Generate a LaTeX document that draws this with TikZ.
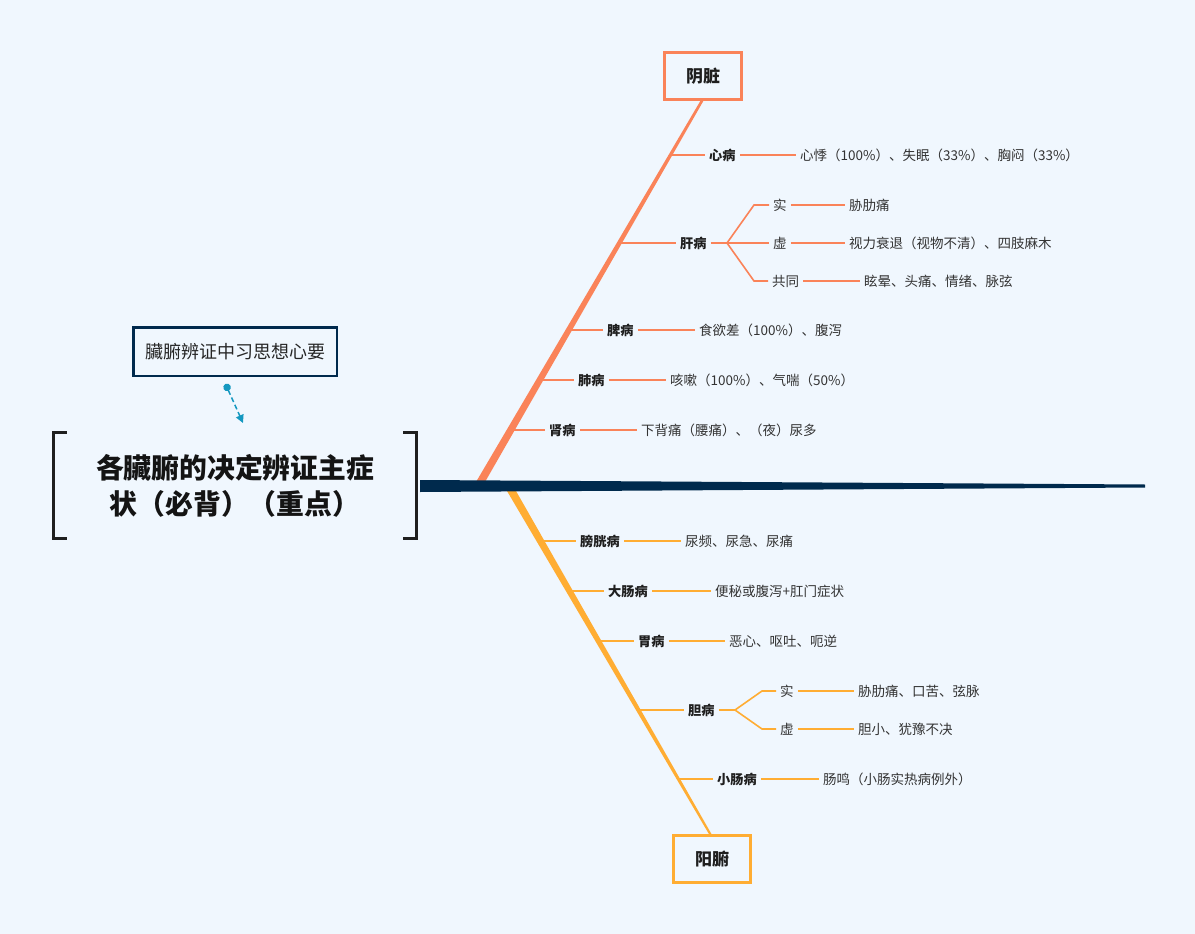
\documentclass[tikz,border=0pt]{standalone}
\usepackage{fontspec}
\setmainfont{Noto Sans CJK SC}
\usetikzlibrary{arrows.meta}
\definecolor{bgblue}{RGB}{240,247,254}
\definecolor{coral}{RGB}{250,131,89}
\definecolor{amber}{RGB}{255,173,51}
\definecolor{navy}{RGB}{0,42,77}
\definecolor{notecyan}{RGB}{20,152,192}
\begin{document}
\begin{tikzpicture}[x=1pt,y=-1pt,
  organ/.style={font=\bfseries\fontsize{13.2}{15}\selectfont,text=black!88,inner sep=4pt,anchor=west},
  sym/.style={font=\fontsize{13.5}{15}\selectfont,text=black!80,inner sep=4pt,anchor=west},
  yin/.style={draw=coral,line width=1.6pt},
  yang/.style={draw=amber,line width=1.6pt},
  group/.style={draw,line width=3pt,fill=bgblue,minimum width=77pt,minimum height=47pt,
    inner sep=0pt,font=\bfseries\fontsize{17}{20}\selectfont,text=black!88}]
  \fill[bgblue] (0,0) rectangle (1195,934);
  \useasboundingbox (0,0) rectangle (1195,934);
  % bones and spine
  \fill[coral] (476,482) -- (485,482) -- (704.5,99) -- (701.5,99) -- cycle;
  \fill[amber] (507,491) -- (516,491) -- (712,835) -- (709.5,835) -- cycle;
  \fill[navy] (420,480) -- (1145,484.5) -- (1145,487.5) -- (420,492) -- cycle;
  \node[group,draw=coral] (yinzang) at (703,76) {阴脏};
  \node[group,draw=amber] (yangfu) at (712,859) {阳腑};
  % main topic
  \node[font=\bfseries\fontsize{27.8}{36}\selectfont,align=center,text=black!92,
    minimum width=362pt,minimum height=105pt,inner sep=0pt] (topic) at (235,485.5)
    {各臟腑的决定辨证主症\\状（必背）（重点）};
  \draw[line width=3pt,black!88] ([xshift=13pt]topic.north west) -- (topic.north west)
    -- (topic.south west) -- ([xshift=13pt]topic.south west);
  \draw[line width=3pt,black!88] ([xshift=-13pt]topic.north east) -- (topic.north east)
    -- (topic.south east) -- ([xshift=-13pt]topic.south east);
  \node[draw=navy,line width=2.5pt,minimum width=203.5pt,minimum height=48.5pt,inner sep=0pt,
    font=\fontsize{18}{20}\selectfont,text=black!85] (note) at (235,351.5) {臟腑辨证中习思想心要};
  \coordinate (nstart) at (225.5,384);
  \coordinate (nend) at (243,423);
  \draw[notecyan,line width=1.5pt,dash pattern=on 5pt off 3pt,
    {Circle[length=7.5pt]}-{Triangle[length=8pt,width=8pt]}] (nstart) -- (nend);
  % yin organs
  \coordinate (bxin) at (671,155);
  \coordinate (bgan) at (619.7,243);
  \coordinate (bpi) at (569,330);
  \coordinate (bfei) at (539.9,380);
  \coordinate (bshen) at (510.8,430);
  \node[organ] (xin) at (705,155) {心病};
  \node[sym] (xind) at (796,155) {心悸（100\%）、失眠（33\%）、胸闷（33\%）};
  \node[organ] (gan) at (676,243) {肝病};
  \coordinate (fgan) at (727,243);
  \node[sym] (gshi) at (769,205) {实};
  \node[sym] (gxu) at (769,243) {虚};
  \node[sym] (ggong) at (768,281) {共同};
  \node[sym] (gshid) at (845,205) {胁肋痛};
  \node[sym] (gxud) at (845,243) {视力衰退（视物不清）、四肢麻木};
  \node[sym] (ggongd) at (860,281) {眩晕、头痛、情绪、脉弦};
  \node[organ] (pi) at (603,330) {脾病};
  \node[sym] (pid) at (695,330) {食欲差（100\%）、腹泻};
  \node[organ] (fei) at (574,380) {肺病};
  \node[sym] (feid) at (666,380) {咳嗽（100\%）、气喘（50\%）};
  \node[organ] (shen) at (545,430) {肾病};
  \node[sym] (shend) at (637,430) {下背痛（腰痛）、（夜）尿多};
  \draw[yin] (bxin) -- (xin.west);
  \draw[yin] (xin.east) -- (xind.west);
  \draw[yin] (bgan) -- (gan.west);
  \draw[yin] (gan.east) -- (fgan);
  \draw[yin] (fgan) -- ([xshift=-15pt]gshi.west) -- (gshi.west);
  \draw[yin] (fgan) -- (gxu.west);
  \draw[yin] (fgan) -- ([xshift=-14pt]ggong.west) -- (ggong.west);
  \draw[yin] (gshi.east) -- (gshid.west);
  \draw[yin] (gxu.east) -- (gxud.west);
  \draw[yin] (ggong.east) -- (ggongd.west);
  \draw[yin] (bpi) -- (pi.west);
  \draw[yin] (pi.east) -- (pid.west);
  \draw[yin] (bfei) -- (fei.west);
  \draw[yin] (fei.east) -- (feid.west);
  \draw[yin] (bshen) -- (shen.west);
  \draw[yin] (shen.east) -- (shend.west);
  % yang organs
  \coordinate (bpang) at (540.5,541);
  \coordinate (bda) at (569.5,591);
  \coordinate (bwei) at (598.5,641);
  \coordinate (bdan) at (638.6,710);
  \coordinate (bxiao) at (678.6,779);
  \node[organ] (pang) at (576,541) {膀胱病};
  \node[sym] (pangd) at (681,541) {尿频、尿急、尿痛};
  \node[organ] (da) at (604,591) {大肠病};
  \node[sym] (dad) at (711,591) {便秘或腹泻+肛门症状};
  \node[organ] (wei) at (634,641) {胃病};
  \node[sym] (weid) at (725,641) {恶心、呕吐、呃逆};
  \node[organ] (dan) at (684,710) {胆病};
  \coordinate (fdan) at (735,710);
  \node[sym] (dshi) at (776,691) {实};
  \node[sym] (dxu) at (776,729) {虚};
  \node[sym] (dshid) at (854,691) {胁肋痛、口苦、弦脉};
  \node[sym] (dxud) at (854,729) {胆小、犹豫不决};
  \node[organ] (xiao) at (713,779) {小肠病};
  \node[sym] (xiaod) at (819,779) {肠鸣（小肠实热病例外）};
  \draw[yang] (bpang) -- (pang.west);
  \draw[yang] (pang.east) -- (pangd.west);
  \draw[yang] (bda) -- (da.west);
  \draw[yang] (da.east) -- (dad.west);
  \draw[yang] (bwei) -- (wei.west);
  \draw[yang] (wei.east) -- (weid.west);
  \draw[yang] (bdan) -- (dan.west);
  \draw[yang] (dan.east) -- (fdan);
  \draw[yang] (fdan) -- ([xshift=-14pt]dshi.west) -- (dshi.west);
  \draw[yang] (fdan) -- ([xshift=-14pt]dxu.west) -- (dxu.west);
  \draw[yang] (dshi.east) -- (dshid.west);
  \draw[yang] (dxu.east) -- (dxud.west);
  \draw[yang] (bxiao) -- (xiao.west);
  \draw[yang] (xiao.east) -- (xiaod.west);
\end{tikzpicture}
\end{document}
